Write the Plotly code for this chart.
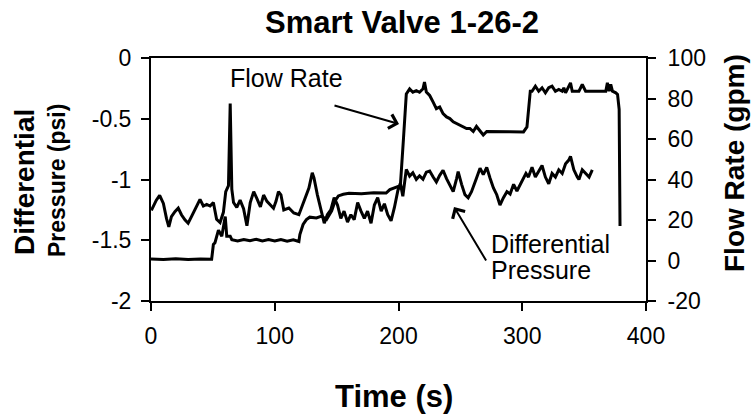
import plotly.graph_objects as go

# ---- data ----
dp_time = [0.3, 4.3, 7, 10, 12.5, 14.4, 16.5, 19.3, 22, 24.6, 27.4, 30, 32.8, 36.8, 39.6, 42.3, 45, 47.7,
           50.4, 53, 55.8, 58.5, 60.4, 62.6, 64, 65.3, 66.7, 69.3, 72, 74.8, 77.5, 80.2, 83, 85.6, 88.4,
           91, 93.7, 96.5, 99, 101, 103, 105, 107.3, 111.4, 115.4, 119.5, 122.2, 125, 127.6, 130.3, 131.7,
           134.4, 137.2, 140, 142.5, 145.3, 148, 150.7, 153.4, 156, 158.8, 161.5, 164.2, 167, 169.7, 172.4,
           175, 177.8, 180.5, 183.2, 186, 188.6, 191.3, 194, 196.7, 199.5, 201.5, 203.5, 206.3, 209, 211.6,
           214.4, 217, 219.8, 222.5, 225.2, 228, 230.6, 233.3, 236, 238.8, 241.5, 244.2, 247, 248.2, 251,
           253.7, 256.3, 259, 263, 265.9, 268.5, 271.3, 274, 276.7, 279.4, 282, 284.8, 287.6, 290.2, 293,
           295.7, 298.4, 301, 303, 305, 307.9, 310.6, 313.3, 316, 318.7, 321.4, 324.1, 326.8, 329.5, 332.3,
           335, 337.6, 339, 341.7, 344.5, 345.8, 348.5, 351.2, 354, 356.6]
dp_psi = [-1.254, -1.17, -1.13, -1.197, -1.32, -1.39, -1.306, -1.264, -1.236, -1.29, -1.332, -1.36, -1.303,
          -1.22, -1.164, -1.218, -1.205, -1.218, -1.19, -1.327, -1.354, -1.27, -1.1, -1.05, -0.375, -1.08,
          -1.19, -1.23, -1.17, -1.24, -1.38, -1.19, -1.1, -1.157, -1.225, -1.128, -1.18, -1.21, -1.237,
          -1.18, -1.10, -1.126, -1.25, -1.235, -1.276, -1.29, -1.22, -1.15, -1.07, -0.945, -0.987, -1.124,
          -1.235, -1.36, -1.29, -1.25, -1.15, -1.21, -1.32, -1.26, -1.35, -1.29, -1.33, -1.19, -1.26, -1.32,
          -1.26, -1.36, -1.21, -1.15, -1.26, -1.2, -1.29, -1.34, -1.23, -1.09, -1.03, -1.138, -0.917, -0.972,
          -0.944, -0.999, -0.97, -0.997, -0.94, -0.93, -0.98, -1.02, -0.966, -0.924, -0.993, -1.05, -1.10,
          -0.99, -0.935, -1.04, -1.125, -1.15, -1.10, -0.99, -0.907, -0.96, -0.90, -0.99, -1.07, -1.125,
          -1.21, -1.15, -1.10, -1.12, -1.04, -1.095, -1.04, -0.985, -0.95, -0.98, -0.90, -0.98, -0.93,
          -0.885, -0.98, -1.035, -0.95, -0.98, -0.92, -0.95, -0.87, -0.84, -0.81, -0.92, -0.98, -1.0, -0.92,
          -0.95, -0.98, -0.92]

flow_time = [0, 10, 20, 30, 40, 49, 50.4, 51.7, 54.5, 57.2, 60, 61.2, 64, 65.3, 70, 75, 80, 85, 90, 95,
             100, 105, 110, 115, 119.5, 120.3, 122.9, 125.6, 128.3, 133.7, 137.8, 141.9, 146, 148.7, 151.4,
             155.4, 160, 170, 180, 190, 193, 198.4, 201.5, 204, 206.3, 209, 211.6, 214.4, 217, 219.8, 221,
             222.5, 225.2, 228, 230.6, 233.3, 236, 238.8, 241.5, 244.2, 247, 249.6, 252.3, 255, 257.7, 260.4,
             263, 265.9, 268.5, 271.3, 280, 290, 301, 303.8, 306.5, 307.9, 310.6, 313.3, 316, 318.7, 321.4,
             324.1, 326.8, 329.5, 332.3, 333.6, 335, 337.6, 339, 340.4, 345.8, 348.5, 351.2, 356.6, 362,
             367.5, 368.8, 370.2, 371.5, 372.9, 375.6, 377, 378.3, 379]
flow_gpm = [0.7, 0.5, 0.9, 0.5, 0.8, 0.6, 7.9, 8.8, 15, 12, 21.7, 12, 12, 10.3, 9.6, 10.4, 9.8, 10.5, 9.7,
            10.3, 9.6, 10.4, 9.5, 10.2, 9.4, 12.8, 17.8, 20.2, 21.4, 21.0, 21.9, 20.3, 24.5, 29.4, 31.9, 32.7,
            33.2, 33.0, 33.4, 33.3, 35, 36.5, 37, 60, 82.2, 84.7, 83.1, 83.9, 83.1, 84.8, 88.1, 83.2, 81.5,
            78.2, 75, 75.8, 72.5, 70.9, 70.1, 68.5, 67.6, 66.8, 66, 65.2, 65.2, 63.7, 66.2, 63.7, 62, 63.7,
            63.5, 63.6, 63.5, 66, 83.6, 83.6, 86.1, 83.6, 85.3, 82.8, 85.3, 86.1, 83.6, 84.5, 83.6, 85.3,
            82.8, 86.1, 87.7, 83.6, 83.6, 86.9, 83.6, 83.6, 83.6, 83.6, 87.7, 83.6, 87.0, 83.6, 82.8, 82,
            74.7, 17]

x_ticks = [0, 100, 200, 300, 400]
dp_ticks = [-2, -1.5, -1, -0.5, 0]
dp_tick_text = ["-2", "-1.5", "-1", "-0.5", "0"]
flow_ticks = [-20, 0, 20, 40, 60, 80, 100]
flow_tick_text = ["-20", "0", "20", "40", "60", "80", "100"]

FONT = "Liberation Sans, Arial, sans-serif"
W, H = 756, 415
L, R, T, B = 151, 646, 58, 301


def px(xp):
    return (xp - L) / (R - L)


def py(yp):
    return (B - yp) / (B - T)


fig = go.Figure()
fig.add_trace(go.Scatter(x=dp_time, y=dp_psi, mode="lines", yaxis="y",
                         line=dict(color="black", width=3), showlegend=False))
fig.add_trace(go.Scatter(x=flow_time, y=flow_gpm, mode="lines", yaxis="y2",
                         line=dict(color="black", width=3), showlegend=False))

axis_common = dict(showgrid=False, zeroline=False, showline=True, linecolor="black", linewidth=2,
                   ticks="outside", ticklen=8, tickwidth=2, tickcolor="black", automargin=False,
                   tickfont=dict(family=FONT, size=23, color="black"))

fig.update_layout(
    width=W, height=H,
    margin=dict(l=L, r=W - R, t=T, b=H - B, autoexpand=False),
    paper_bgcolor="white", plot_bgcolor="white",
    xaxis=dict(range=[0, 400], tickvals=x_ticks, mirror=True, ticklabelstandoff=5, **axis_common),
    yaxis=dict(range=[-2, 0], tickvals=dp_ticks, ticktext=dp_tick_text, ticklabelstandoff=5, **axis_common),
    yaxis2=dict(range=[-20, 100], tickvals=flow_ticks, ticktext=flow_tick_text, overlaying="y",
                side="right", ticklabelstandoff=7, **axis_common),
)

ann = []
# titles
ann.append(dict(text="<b>Smart Valve 1-26-2</b>", xref="paper", yref="paper", x=px(402), y=py(22),
                xanchor="center", yanchor="middle", showarrow=False,
                font=dict(family=FONT, size=31, color="black")))
ann.append(dict(text="<b>Time (s)</b>", xref="paper", yref="paper", x=px(394), y=py(396),
                xanchor="center", yanchor="middle", showarrow=False,
                font=dict(family=FONT, size=31, color="black")))
ann.append(dict(text="<b>Differential</b>", xref="paper", yref="paper", x=px(24), y=py(182),
                xanchor="center", yanchor="middle", showarrow=False, textangle=-90,
                font=dict(family=FONT, size=28, color="black")))
ann.append(dict(text="<b>Pressure (psi)</b>", xref="paper", yref="paper", x=px(57), y=py(181),
                xanchor="center", yanchor="middle", showarrow=False, textangle=-90,
                font=dict(family=FONT, size=23, color="black")))
ann.append(dict(text="<b>Flow Rate (gpm)</b>", xref="paper", yref="paper", x=px(734), y=py(163),
                xanchor="center", yanchor="middle", showarrow=False, textangle=-90,
                font=dict(family=FONT, size=28, color="black")))
# in-plot labels
ann.append(dict(text="Flow Rate", xref="paper", yref="paper", x=px(286), y=py(78),
                xanchor="center", yanchor="middle", showarrow=False,
                font=dict(family=FONT, size=25, color="black")))
ann.append(dict(text="Differential", xref="paper", yref="paper", x=px(489), y=py(244),
                xanchor="left", yanchor="middle", showarrow=False,
                font=dict(family=FONT, size=25, color="black")))
ann.append(dict(text="Pressure", xref="paper", yref="paper", x=px(489), y=py(270),
                xanchor="left", yanchor="middle", showarrow=False,
                font=dict(family=FONT, size=25, color="black")))
# arrows (tail offsets in pixels)
ann.append(dict(text="", xref="paper", yref="paper", x=px(399), y=py(124),
                axref="pixel", ayref="pixel", ax=333 - 399, ay=105 - 124, showarrow=True,
                arrowhead=4, arrowsize=1.4, arrowwidth=2, arrowcolor="black", standoff=0))
ann.append(dict(text="", xref="paper", yref="paper", x=px(454), y=py(207),
                axref="pixel", ayref="pixel", ax=487 - 454, ay=262 - 207, showarrow=True,
                arrowhead=4, arrowsize=1.4, arrowwidth=2, arrowcolor="black", standoff=0))
fig.update_layout(annotations=ann)

# remove the default page margin so the figure fills the 756x415 window exactly
fig.write_html("out.html", config={"displayModeBar": False},
               post_script="document.body.style.margin='0px';")
